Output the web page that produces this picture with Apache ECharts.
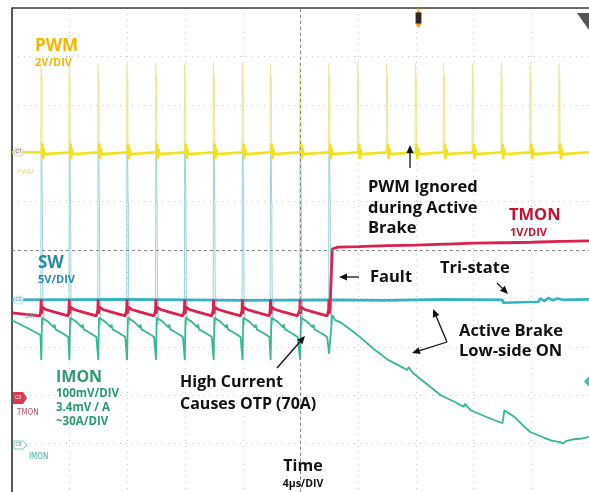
<!DOCTYPE html>
<html>
<head>
<meta charset="utf-8">
<script src="https://cdn.jsdelivr.net/npm/echarts@6.0.0/dist/echarts.min.js"></script>
<style>
html, body { margin: 0; padding: 0; background: #fff; }
#scope { width: 589px; height: 492px; }
</style>
</head>
<body>
<div id="scope"></div>
<script>
// time in µs (4µs/DIV), vertical values in scope divisions counted from the bottom
const pwmEdges = [2.0, 3.95, 5.95, 7.95, 9.95, 11.95, 13.95, 15.95, 17.9, 19.95, 21.95, 23.95, 25.95, 27.95, 29.9, 31.9, 33.9, 35.9, 37.9]
const faultTime = 22.2
const cursorTime = 20
const cursorLevel = 5

// PWM (C1)
const pwmLevel = [[0, 7.02], [40, 7.02]]
const pwmRing = [[0.08, 7.02], [0.11, 7.2], [0.15, 6.88], [0.2, 7.1], [0.26, 6.98], [0.32, 7.02]]
const pwmPulse = [[-0.01, 7.02], [0.01, 8.86], [0.05, 8.86], [0.06, 8.45], [0.08, 8.58], [0.09, 7.02]]

// SW (C2)
const swLevel = [[0, 3.97], [8, 3.98], [16, 3.96], [22.2, 3.97], [26, 3.96], [30, 3.98], [34.0, 3.97], [34.05, 3.91], [36.5, 3.93], [36.6, 4.0], [36.9, 3.95], [37.2, 4.01], [37.5, 3.96], [37.8, 4.0], [38.2, 3.97], [40, 3.98]]
const swPulse = [[0, 3.97], [0.02, 7.21], [0.06, 7.12], [0.1, 6.0], [0.13, 5.9], [0.11, 5.78], [0.14, 3.97], [0.17, 3.45], [0.21, 3.97]]

// TMON (C3)
const tmonStart = [[0, 3.7], [1.95, 3.64]]
const tmonPulse = [[-0.04, 3.64], [0, 3.76], [0.02, 3.98], [0.04, 3.68], [0.1, 3.82], [0.35, 3.77], [0.9, 3.72], [1.9, 3.64]]
const tmonBrake = [[22.18, 3.78], [22.2, 5.02], [22.6, 5.06], [24, 5.07], [26, 5.09], [26.1, 5.13], [26.2, 5.09], [28, 5.1], [30, 5.12], [30.1, 5.16], [30.2, 5.12], [32, 5.14], [34, 5.15], [34.1, 5.19], [34.2, 5.15], [36, 5.16], [38, 5.18], [38.1, 5.22], [38.2, 5.18], [40, 5.19]]

// IMON (C8)
const imonStart = [[0, 3.55], [1.0, 3.4], [1.95, 3.25]]
const imonCycle = [[-0.02, 3.2], [0.03, 2.73], [0.08, 3.6], [0.5, 3.52], [0.9, 3.4], [0.95, 3.46], [1.02, 3.36], [1.5, 3.28], [1.9, 3.2]]
const imonLast = [[-0.02, 3.2], [0.03, 2.86]]
const imonBrake = [[22.2, 3.66], [22.41, 3.55], [22.8, 3.5], [23.31, 3.39], [23.8, 3.28], [24.21, 3.18], [25.1, 2.95], [26.07, 2.73], [26.9, 2.6], [27.4, 2.52], [27.5, 2.58], [27.79, 2.46], [28.8, 2.22], [29.72, 2.0], [30.7, 1.86], [31.3, 1.76], [31.4, 1.82], [31.79, 1.69], [32.9, 1.55], [34.0, 1.42], [34.14, 1.69], [34.83, 1.55], [35.4, 1.38], [35.93, 1.24], [36.9, 1.12], [37.4, 1.06], [38.0, 1.03], [38.2, 1.0], [38.4, 1.05], [38.97, 1.09], [39.4, 1.1], [40, 1.14]]

const swEdges = pwmEdges.filter(t => t < faultTime)

const shift = (t, shape) => shape.map(p => [t + p[0], p[1]])

let pwmBaseData = [pwmLevel[0]]
pwmEdges.forEach(t => { pwmBaseData = pwmBaseData.concat(shift(t, pwmRing)) })
pwmBaseData.push(pwmLevel[1])

let pwmSpikeData = []
pwmEdges.forEach(t => { pwmSpikeData = pwmSpikeData.concat(shift(t, pwmPulse), [[null, null]]) })

let swSpikeData = []
swEdges.forEach(t => { swSpikeData = swSpikeData.concat(shift(t, swPulse), [[null, null]]) })

let tmonData = tmonStart.slice()
swEdges.forEach(t => { tmonData = tmonData.concat(shift(t, tmonPulse)) })
tmonData = tmonData.filter(p => p[0] < faultTime - 0.05).concat(tmonBrake)

let imonData = imonStart.slice()
swEdges.forEach((t, i) => {
  imonData = imonData.concat(shift(t, i < swEdges.length - 1 ? imonCycle : imonLast))
})
imonData = imonData.concat(imonBrake)

const boldFont = (size) => 'bold ' + size + 'px "Open Sans", "Noto Sans", sans-serif'

function label (x, y, text, color, size, align) {
  return {
    type: 'text', x: x, y: y, z: 50,
    style: { text: text, fill: color, font: boldFont(size), textAlign: align || 'left', textVerticalAlign: 'middle' }
  }
}

function arrow (x1, y1, x2, y2) {
  const a = Math.atan2(y2 - y1, x2 - x1)
  const L = 8, W = 3.5
  const bx = x2 - L * Math.cos(a), by = y2 - L * Math.sin(a)
  return [
    { type: 'line', z: 50, shape: { x1: x1, y1: y1, x2: bx, y2: by }, style: { stroke: '#111', lineWidth: 1.3 } },
    { type: 'polygon', z: 50, shape: { points: [[x2, y2], [bx - W * Math.sin(a), by + W * Math.cos(a)], [bx + W * Math.sin(a), by - W * Math.cos(a)]] }, style: { fill: '#111' } }
  ]
}

const small = (x, y, text, color, size, font) => ({
  type: 'text', x: x, y: y, z: 40,
  style: { text: text, fill: color, font: size + 'px ' + (font || 'Roboto, sans-serif'), textAlign: 'left', textVerticalAlign: 'middle' }
})

const graphics = [
  // frame
  { type: 'line', z: 30, shape: { x1: 12, y1: 8, x2: 589, y2: 8 }, style: { stroke: '#3a3a3a', lineWidth: 1.5 } },
  // trigger marker
  { type: 'line', z: 30, shape: { x1: 418.5, y1: 8, x2: 418.5, y2: 12 }, style: { stroke: '#f0a020', lineWidth: 1.5 } },
  { type: 'rect', z: 30, shape: { x: 415.5, y: 12, width: 6, height: 12, r: 1.5 }, style: { fill: '#2a2a2a', stroke: '#f0a020', lineWidth: 0.8 } },
  { type: 'polygon', z: 30, shape: { points: [[415.5, 24], [421.5, 24], [418.5, 28]] }, style: { fill: '#f0a020' } },
  { type: 'polygon', z: 30, shape: { points: [[577, 13], [589, 13], [589, 30]] }, style: { fill: '#555' } },
  // channel tags
  { type: 'rect', z: 30, shape: { x: 14, y: 148, width: 9, height: 8, r: 2 }, style: { fill: '#f2f2e8', stroke: '#bbbbbb', lineWidth: 0.5 } },
  small(15.5, 152, 'C1', '#555', 5),
  small(17, 172, 'PWM', '#e6dc8a', 7),
  { type: 'rect', z: 30, shape: { x: 14, y: 296, width: 9, height: 8, r: 2 }, style: { fill: '#e8f4f6', stroke: '#9fcfd6', lineWidth: 0.5 } },
  small(15.5, 300, 'C2', '#4a8a96', 5),
  small(25, 316, 'SW', '#7a9aa0', 7),
  { type: 'polygon', z: 30, shape: { points: [[13, 392], [23, 392], [27, 398], [23, 404], [13, 404]] }, style: { fill: '#d63a55' } },
  small(15, 398, 'C3', '#fff', 5),
  small(17, 412.5, 'TMON', '#a85a6a', 8, '"DejaVu Sans Condensed", Roboto, sans-serif'),
  { type: 'polygon', z: 30, shape: { points: [[14, 441], [23, 441], [27, 445], [23, 449], [14, 449]] }, style: { fill: '#ffffff', stroke: '#5cc0b0', lineWidth: 0.8 } },
  small(15.5, 445, 'C8', '#3aa090', 5),
  small(29, 457, 'IMON', '#45b0a2', 8, '"DejaVu Sans Condensed", Roboto, sans-serif'),
  { type: 'polygon', z: 30, shape: { points: [[584, 381.5], [588, 377], [589, 377], [589, 386], [588, 386]] }, style: { fill: '#3cc0a0' } },
  // channel labels
  label(35, 46, 'PWM', '#f7b500', 17),
  label(35, 63, '2V/DIV', '#f7b500', 11),
  label(38, 263, 'SW', '#2b88a8', 17),
  label(38, 280, '5V/DIV', '#2b88a8', 11),
  label(509, 215.5, 'TMON', '#c8102e', 16.5),
  label(510, 232.5, '1V/DIV', '#c8102e', 11),
  label(56, 377, 'IMON', '#2a9a72', 16),
  label(56, 394, '100mV/DIV', '#2a9a72', 11.5),
  label(56, 408, '3.4mV / A', '#2a9a72', 11.5),
  label(56, 422, '~30A/DIV', '#2a9a72', 11.5),
  // annotations
  label(368, 187.5, 'PWM Ignored', '#111', 16.5),
  label(368, 208, 'during Active', '#111', 16.5),
  label(368, 228.5, 'Brake', '#111', 16.5),
  label(370, 277.5, 'Fault', '#111', 16.5),
  label(440, 268.5, 'Tri-state', '#111', 16.5),
  label(459, 331.5, 'Active Brake', '#111', 16.5),
  label(459, 351.5, 'Low-side ON', '#111', 16.5),
  label(180, 382.5, 'High Current', '#111', 16),
  label(180, 404, 'Causes OTP (70A)', '#111', 16),
  label(303, 466.5, 'Time', '#111', 16, 'center'),
  label(303, 484.5, '4µs/DIV', '#111', 10.5, 'center')
].concat(
  arrow(410, 168, 410, 145),
  arrow(359, 277, 339, 277),
  arrow(497, 283, 508, 294),
  arrow(447, 342, 433, 309),
  arrow(447, 342, 412, 353),
  arrow(277, 368, 305, 336)
)

const chart = echarts.init(document.getElementById('scope'))
chart.setOption({
  animation: false,
  backgroundColor: '#ffffff',
  grid: { left: 12, top: 8, width: 580, height: 484 },
  xAxis: {
    type: 'value', min: 0, max: 40, interval: 4,
    axisLine: { show: false }, axisTick: { show: false }, axisLabel: { show: false },
    splitLine: { show: true, lineStyle: { color: '#c9c9c9', type: [1, 5], width: 1 } }
  },
  yAxis: {
    type: 'value', min: 0, max: 10, interval: 1,
    axisLine: { show: true, onZero: false, lineStyle: { color: '#222', width: 1.5 } },
    axisTick: { show: false }, axisLabel: { show: false },
    splitLine: { show: true, lineStyle: { color: '#c9c9c9', type: [1, 5], width: 1 } }
  },
  series: [{
    name: 'SW pulses', type: 'line', symbol: 'none', connectNulls: false,
    lineStyle: { color: '#9dd3db', width: 1 },
    data: swSpikeData,
    markLine: {
      silent: true, symbol: 'none', label: { show: false },
      lineStyle: { color: '#8a8a8a', type: [3, 3], width: 1 },
      data: [{ xAxis: cursorTime }, { yAxis: cursorLevel }]
    }
  }, {
    name: 'PWM pulses', type: 'line', symbol: 'none', connectNulls: false,
    lineStyle: { color: '#eee79a', width: 1.1 },
    data: pwmSpikeData
  }, {
    name: 'PWM', type: 'line', symbol: 'none',
    lineStyle: { color: '#f0e21e', width: 2.6 },
    data: pwmBaseData
  }, {
    name: 'SW', type: 'line', symbol: 'none',
    lineStyle: { color: '#35b3c2', width: 2.6 },
    data: swLevel
  }, {
    name: 'IMON', type: 'line', symbol: 'none',
    lineStyle: { color: '#35b894', width: 1.8 },
    data: imonData
  }, {
    name: 'TMON', type: 'line', symbol: 'none',
    lineStyle: { color: '#d9224f', width: 2.8 },
    data: tmonData
  }],
  graphic: graphics
})
</script>
</body>
</html>
